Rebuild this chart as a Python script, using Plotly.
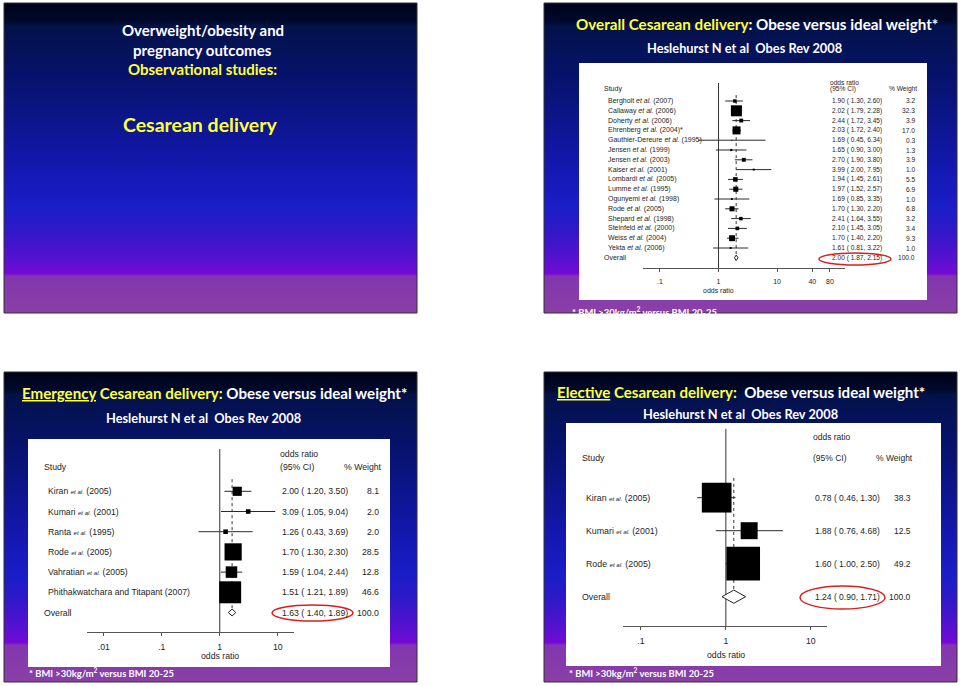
import base64
import struct
import zlib

import numpy as np
import plotly.graph_objects as go

W, H = 960, 686


def fx(x):
    return x / W


def fy(y):
    return 1 - y / H


# ---------------- data ----------------
# Overall caesarean delivery
a_authors = ["Bergholt", "Callaway", "Doherty", "Ehrenberg", "Gauthier-Dereure", "Jensen", "Jensen",
             "Kaiser", "Lombardi", "Lumme", "Ogunyemi", "Rode", "Shepard", "Steinfeld", "Weiss", "Yekta"]
a_years = ["(2007)", "(2006)", "(2006)", "(2004)*", "(1995)", "(1999)", "(2003)", "(2001)",
           "(2005)", "(1995)", "(1998)", "(2005)", "(1998)", "(2000)", "(2004)", "(2006)"]
a_or = [1.90, 2.02, 2.44, 2.03, 1.69, 1.65, 2.70, 3.99, 1.94, 1.97, 1.69, 1.70, 2.41, 2.10, 1.70, 1.61]
a_lo = [1.30, 1.79, 1.72, 1.72, 0.45, 0.90, 1.90, 2.00, 1.45, 1.52, 0.85, 1.30, 1.64, 1.45, 1.40, 0.81]
a_hi = [2.60, 2.28, 3.45, 2.40, 6.34, 3.00, 3.80, 7.95, 2.61, 2.57, 3.35, 2.20, 3.55, 3.05, 2.20, 3.22]
a_wt = [3.2, 32.3, 3.9, 17.0, 0.3, 1.3, 3.9, 1.0, 5.5, 6.9, 1.0, 6.8, 3.2, 3.4, 9.3, 1.0]
a_etal = [True] * 16
a_overall = [2.00, 1.87, 2.15]
a_ticks = [0.1, 1, 10, 40, 80]
a_ticklabels = [".1", "1", "10", "40", "80"]

# Emergency caesarean delivery
b_authors = ["Kiran", "Kumari", "Ranta", "Rode", "Vahratian", "Phithakwatchara and Titapant"]
b_years = ["(2005)", "(2001)", "(1995)", "(2005)", "(2005)", "(2007)"]
b_or = [2.00, 3.09, 1.26, 1.70, 1.59, 1.51]
b_lo = [1.20, 1.05, 0.43, 1.30, 1.04, 1.21]
b_hi = [3.50, 9.04, 3.69, 2.30, 2.44, 1.89]
b_wt = [8.1, 2.0, 2.0, 28.5, 12.8, 46.6]
b_etal = [True, True, True, True, True, False]
b_overall = [1.63, 1.40, 1.89]
b_ticks = [0.01, 0.1, 1, 10]
b_ticklabels = [".01", ".1", "1", "10"]

# Elective caesarean delivery
c_authors = ["Kiran", "Kumari", "Rode"]
c_years = ["(2005)", "(2001)", "(2005)"]
c_or = [0.78, 1.88, 1.60]
c_lo = [0.46, 0.76, 1.00]
c_hi = [1.30, 4.68, 2.50]
c_wt = [38.3, 12.5, 49.2]
c_etal = [True, True, True]
c_overall = [1.24, 0.90, 1.71]
c_ticks = [0.1, 1, 10]
c_ticklabels = [".1", "1", "10"]

# ---------------- styling / layout ----------------
YEL = "#ffff3c"
TITLE_FONT = "Lato"
PLOT_FONT = "Liberation Sans, Arial, sans-serif"
INK = "#1e1e1e"

fig = go.Figure()
shapes = []
ann = []
images = []

slides = [(4, 3, 417, 313), (544, 3, 957, 313), (4, 372, 417, 682), (544, 372, 957, 682)]
stops = [(0.0, "#00001a"), (0.06, "#000a2c"), (0.075, "#03124a"), (0.22, "#061268"),
         (0.37, "#0c158a"), (0.53, "#1418b0"), (0.66, "#1a1ec8"), (0.74, "#3218c8"),
         (0.84, "#5e10d2"), (0.872, "#7408d8"), (0.882, "#8236b0"), (1.0, "#8a40a6")]


def hex2rgb(h):
    h = h.lstrip("#")
    return np.array([int(h[i:i + 2], 16) for i in (0, 2, 4)], dtype=float)


stop_t = np.array([s[0] for s in stops])
stop_c = np.array([hex2rgb(s[1]) for s in stops])


def gradient_png(nrows, ncols=4):
    raw = b""
    for r in range(nrows):
        t = (r + 0.5) / nrows
        rgb = bytes(int(round(np.interp(t, stop_t, stop_c[:, j]))) for j in range(3))
        raw += b"\x00" + rgb * ncols

    def chunk(tag, data):
        return (struct.pack(">I", len(data)) + tag + data +
                struct.pack(">I", zlib.crc32(tag + data) & 0xFFFFFFFF))

    png = (b"\x89PNG\r\n\x1a\n" +
           chunk(b"IHDR", struct.pack(">IIBBBBB", ncols, nrows, 8, 2, 0, 0, 0)) +
           chunk(b"IDAT", zlib.compress(raw)) + chunk(b"IEND", b""))
    return "data:image/png;base64," + base64.b64encode(png).decode()


for (x0, y0, x1, y1) in slides:
    images.append(dict(source=gradient_png(int(y1 - y0)), xref="paper", yref="paper",
                       x=fx(x0), y=fy(y0), sizex=(x1 - x0) / W, sizey=(y1 - y0) / H,
                       xanchor="left", yanchor="top", sizing="stretch", layer="below"))
    shapes.append(dict(type="rect", xref="paper", yref="paper", x0=fx(x0), x1=fx(x1),
                       y0=fy(y1), y1=fy(y0), fillcolor="rgba(0,0,0,0)",
                       line=dict(width=1, color="#303030"), layer="below"))

# white boxes
for (x0, y0, x1, y1) in [(579, 63, 927, 300), (28, 439, 390, 667), (566, 423, 941, 666)]:
    shapes.append(dict(type="rect", xref="paper", yref="paper", x0=fx(x0), x1=fx(x1),
                       y0=fy(y1), y1=fy(y0), fillcolor="white", line=dict(width=0), layer="below"))


def text(x, y, s, size, color="white", anchor="center", family=TITLE_FONT, yanchor="middle"):
    ann.append(dict(x=fx(x), y=fy(y), xref="paper", yref="paper", text=s, showarrow=False,
                    xanchor=anchor, yanchor=yanchor, font=dict(family=family, size=size, color=color)))


# Slide 1 titles
text(203, 30, "<b>Overweight/obesity and</b>", 15)
text(202, 50, "<b>pregnancy outcomes</b>", 15)
text(202, 69, "<b>Observational studies:</b>", 15, YEL)
text(200, 124, "<b>Cesarean delivery</b>", 19.5, YEL)

# Slide 2-4 titles
text(757, 24, "<b><span style='color:%s'>Overall Cesarean delivery</span>: Obese versus ideal weight*</b>" % YEL, 15.2)
text(744, 48, "<b>Heslehurst N et al  Obes Rev 2008</b>", 12.8)
text(214, 393, "<b><span style='color:%s'><span style='text-decoration:underline'>Emergency</span> Cesarean delivery:</span> Obese versus ideal weight*</b>" % YEL, 15.1)
text(203, 418, "<b>Heslehurst N et al  Obes Rev 2008</b>", 12.8)
text(741, 392, "<b><span style='color:%s'><span style='text-decoration:underline'>Elective</span> Cesarean delivery:</span>  Obese versus ideal weight*</b>" % YEL, 15.1)
text(740, 414, "<b>Heslehurst N et al  Obes Rev 2008</b>", 12.8)

foot = "<b>* BMI &gt;30kg/m<sup>2</sup> versus BMI 20-25</b>"
text(570, 304, foot, 9.4, anchor="left", yanchor="top")
text(27, 673, foot, 9.4, anchor="left")
text(567, 673, foot, 9.4, anchor="left")

# ---------------- forest panels ----------------
panels = [
    dict(n="2", authors=a_authors, years=a_years, est=a_or, lo=a_lo, hi=a_hi, wt=a_wt, etal=a_etal,
         overall=a_overall, ticks=a_ticks, ticklabels=a_ticklabels,
         xdom=(643, 845), xrange=(-1.29, 2.16), ydom=(83, 268), row0=101, drow=9.8,
         k=1.94, dh=0.28, study_x=602, name_x=606, val_x=830, wt_x=917, hdr_wt_x=919,
         hdr_or_y=83, hdr_y=89, fs=7, vfs=6.6, tfs=7, or_title=(718, 290),
         ellipse=(819, 253, 891, 265), small_etal=False),
    dict(n="3", authors=b_authors, years=b_years, est=b_or, lo=b_lo, hi=b_hi, wt=b_wt, etal=b_etal,
         overall=b_overall, ticks=b_ticks, ticklabels=b_ticklabels,
         xdom=(87, 294), xrange=(-2.29, 1.28), ydom=(449, 632), row0=491.3, drow=20.2,
         k=3.22, dh=0.17, study_x=42, name_x=46, val_x=280, wt_x=381, hdr_wt_x=384,
         hdr_or_y=454, hdr_y=467, fs=8.7, vfs=8.7, tfs=8.7, or_title=(220, 656),
         ellipse=(272, 605, 353, 621), small_etal=True),
    dict(n="4", authors=c_authors, years=c_years, est=c_or, lo=c_lo, hi=c_hi, wt=c_wt, etal=c_etal,
         overall=c_overall, ticks=c_ticks, ticklabels=c_ticklabels,
         xdom=(623, 827), xrange=(-1.21, 1.19), ydom=(428.7, 626), row0=497.7, drow=33.0,
         k=4.8, dh=0.2, study_x=580, name_x=584, val_x=813, wt_x=913, hdr_wt_x=915,
         hdr_or_y=437, hdr_y=458, fs=8.8, vfs=8.5, tfs=8.7, or_title=(726, 655),
         ellipse=(800, 586, 885, 609), small_etal=True),
]

layout_axes = {}
for p in panels:
    n = p["n"]
    xa, ya = "x" + n, "y" + n
    rtop = (p["ydom"][0] - p["row0"]) / p["drow"]
    rbot = (p["ydom"][1] - p["row0"]) / p["drow"]
    nst = len(p["est"])
    layout_axes["xaxis" + n] = dict(domain=[fx(p["xdom"][0]), fx(p["xdom"][1])], anchor=ya, type="log",
                                   range=list(p["xrange"]), showgrid=False, zeroline=False, showline=True,
                                   linecolor="#555", linewidth=1, ticks="outside", ticklen=3,
                                   tickcolor="#555", tickvals=p["ticks"], ticktext=p["ticklabels"],
                                   tickfont=dict(family=PLOT_FONT, size=p["tfs"], color=INK),
                                   ticklabelstandoff=4, fixedrange=True)
    layout_axes["yaxis" + n] = dict(domain=[fy(p["ydom"][1]), fy(p["ydom"][0])], anchor=xa,
                                   range=[rbot, rtop], visible=False, showgrid=False, zeroline=False,
                                   fixedrange=True)
    rows = list(range(nst))
    # reference line at OR = 1
    fig.add_trace(go.Scatter(x=[1, 1], y=[rbot, rtop], mode="lines", xaxis=xa, yaxis=ya,
                             line=dict(color="#333", width=1), hoverinfo="skip", showlegend=False,
                             cliponaxis=False))
    # dotted line at overall estimate
    fig.add_trace(go.Scatter(x=[p["overall"][0]] * 2, y=[-0.6, nst], mode="lines", xaxis=xa, yaxis=ya,
                             line=dict(color="#333", width=1, dash="dot"), hoverinfo="skip",
                             showlegend=False))
    # confidence intervals
    cx, cy = [], []
    for i in rows:
        cx += [p["lo"][i], p["hi"][i], None]
        cy += [i, i, None]
    fig.add_trace(go.Scatter(x=cx, y=cy, mode="lines", xaxis=xa, yaxis=ya,
                             line=dict(color="#2a2a2a", width=1), hoverinfo="skip", showlegend=False))
    # weighted boxes
    fig.add_trace(go.Scatter(x=p["est"], y=rows, mode="markers", xaxis=xa, yaxis=ya,
                             marker=dict(symbol="square", color="black", opacity=1,
                                         size=[p["k"] * np.sqrt(w) for w in p["wt"]],
                                         line=dict(width=0)),
                             hoverinfo="skip", showlegend=False))
    # overall diamond
    oe, ol, oh = p["overall"]
    fig.add_trace(go.Scatter(x=[ol, oe, oh, oe, ol], y=[nst, nst - p["dh"], nst, nst + p["dh"], nst],
                             mode="lines", fill="toself", fillcolor="white", xaxis=xa, yaxis=ya,
                             line=dict(color="#222", width=1), hoverinfo="skip", showlegend=False))

    def rtext(x, r, s, size, anchor="left"):
        ann.append(dict(x=fx(x), y=r, xref="paper", yref=ya, text=s, showarrow=False,
                        xanchor=anchor, yanchor="middle",
                        font=dict(family=PLOT_FONT, size=size, color=INK)))

    # headers
    text(p["study_x"], p["hdr_y"], "Study", p["fs"], INK, "left", PLOT_FONT)
    text(p["val_x"] - 2, p["hdr_or_y"], "odds ratio", p["vfs"], INK, "left", PLOT_FONT)
    text(p["val_x"] - 2, p["hdr_y"], "(95% CI)", p["vfs"], INK, "left", PLOT_FONT)
    text(p["hdr_wt_x"], p["hdr_y"], "% Weight", p["vfs"], INK, "right", PLOT_FONT)
    for i in rows:
        if p["etal"][i]:
            if p["small_etal"]:
                et = "<i><span style='font-size:%.1fpx'>et al.</span></i>" % (p["fs"] * 0.7)
            else:
                et = "<i>et al.</i>"
            label = "%s %s %s" % (p["authors"][i], et, p["years"][i])
        else:
            label = "%s %s" % (p["authors"][i], p["years"][i])
        rtext(p["name_x"], i, label, p["fs"])
        rtext(p["val_x"], i, "%.2f ( %.2f, %.2f)" % (p["est"][i], p["lo"][i], p["hi"][i]), p["vfs"])
        rtext(p["wt_x"], i, "%.1f" % p["wt"][i], p["vfs"], "right")
    rtext(p["study_x"], nst, "Overall", p["fs"])
    rtext(p["val_x"], nst, "%.2f ( %.2f, %.2f)" % (oe, ol, oh), p["vfs"])
    rtext(p["wt_x"], nst, "%.1f" % 100.0, p["vfs"], "right")
    # axis title
    text(p["or_title"][0], p["or_title"][1], "odds ratio", p["tfs"], INK, "center", PLOT_FONT)
    # highlight ellipse
    ex0, ey0, ex1, ey1 = p["ellipse"]
    shapes.append(dict(type="circle", xref="paper", yref="paper", x0=fx(ex0), x1=fx(ex1),
                       y0=fy(ey1), y1=fy(ey0), line=dict(color="#d42020", width=1.5),
                       fillcolor="rgba(0,0,0,0)", layer="above"))

fig.update_layout(
    width=W, height=H, margin=dict(l=0, r=0, t=0, b=0),
    paper_bgcolor="white", plot_bgcolor="rgba(0,0,0,0)",
    showlegend=False, shapes=shapes, annotations=ann, images=images,
    xaxis=dict(visible=False, domain=[0, 0.01]), yaxis=dict(visible=False, domain=[0, 0.01]),
    **layout_axes,
)

fig.write_html("out.html", include_plotlyjs=True, config=dict(displayModeBar=False))
